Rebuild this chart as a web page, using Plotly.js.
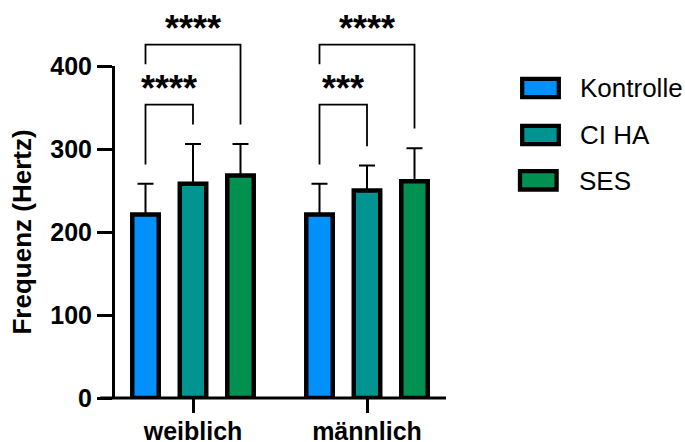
<!DOCTYPE html>
<html>
<head>
<meta charset="utf-8">
<script src="https://cdn.plot.ly/plotly-3.0.1.min.js"></script>
<style>html,body{margin:0;padding:0;background:#fff;}#chart{width:685px;height:442px;}</style>
</head>
<body>
<div id="chart"></div>
<script>
// ---- data ----
var categories = ["weiblich", "männlich"];
var seriesNames = ["Kontrolle", "CI HA", "SES"];
var kontrolle = [221, 221];
var ciha = [258, 250];
var ses = [268, 261];
var kontrolleSD = [37, 37];
var cihaSD = [48, 30];
var sesSD = [38, 40];
var tickValues = [0, 100, 200, 300, 400];
var tickLabels = ["0", "100", "200", "300", "400"];
// significance comparisons: group index, from series, to series, label
var compGroup = [0, 0, 1, 1];
var compFrom = [0, 0, 0, 0];
var compTo = [1, 2, 1, 2];
var compLabel = ["****", "****", "***", "****"];

// ---- geometry / style ----
var W = 685, H = 442;
var mL = 115, mR = 239, mT = 66, mB = 44;
var plotW = W - mL - mR, plotH = H - mT - mB;
var yMax = 400;
var pxPerCat = 174;
var xLeft = -(193 - mL) / pxPerCat;
var xRight = xLeft + plotW / pxPerCat;
var slot = 0.273;
function xp(px) { return (px - mL) / plotW; }
function yp(py) { return (H - mB - py) / plotH; }
function ypv(v) { return v / yMax; }

var colors = ["#0091FF", "#009490", "#009050"];
var font = "Arial, 'Liberation Sans', sans-serif";
var vals = [kontrolle, ciha, ses];
var sds = [kontrolleSD, cihaSD, sesSD];

var traces = seriesNames.map(function (n, i) {
  return {
    type: "bar", name: n, x: categories, y: vals[i],
    marker: { color: colors[i], line: { color: "#000", width: 4.5 } },
    error_y: { type: "data", symmetric: false, array: sds[i], arrayminus: [0, 0],
               color: "#000", thickness: 2, width: 8 },
    cliponaxis: false,
    showlegend: false
  };
});

var shapes = [];
var annotations = [];
// x axis line (extends left of the y axis)
shapes.push({ type: "line", xref: "paper", yref: "paper", x0: xp(100), x1: 1, y0: 0, y1: 0,
              line: { color: "#000", width: 3 } });

// brackets (values in y-axis units, may exceed the axis range)
var bracketTop = [353.5, 425.8, 353.5, 425.8];
var legFromEnd = [281.2, 402, 281.2, 402];
var legToEnd = [329.4, 329.4, 303.3, 324.6];
var labelY = [yp(88), yp(29), yp(88), yp(29)];
for (var k = 0; k < compGroup.length; k++) {
  var xa = compGroup[k] + (compFrom[k] - 1) * slot;
  var xb = compGroup[k] + (compTo[k] - 1) * slot;
  shapes.push({ type: "path", xref: "x", yref: "paper",
    path: "M" + xa + "," + ypv(legFromEnd[k]) + " L" + xa + "," + ypv(bracketTop[k]) +
          " L" + xb + "," + ypv(bracketTop[k]) + " L" + xb + "," + ypv(legToEnd[k]),
    line: { color: "#000", width: 1.8 } });
  annotations.push({ xref: "x", yref: "paper", x: (xa + xb) / 2, y: labelY[k], text: compLabel[k],
    showarrow: false, xanchor: "center", yanchor: "middle",
    font: { family: font, size: 36, color: "#000", weight: "bold" } });
}

// legend (manual)
var legBoxX = [540.5, 540.5, 538.3];
var legBoxY = [88, 135, 180.3];
var legTextX = [578, 578, 577];
var legTextY = [88, 135, 181];
for (var j = 0; j < seriesNames.length; j++) {
  shapes.push({ type: "rect", xref: "paper", yref: "paper",
    x0: xp(legBoxX[j] - 18.3), x1: xp(legBoxX[j] + 18.3),
    y0: yp(legBoxY[j] + 9.2), y1: yp(legBoxY[j] - 9.2),
    fillcolor: colors[j], line: { color: "#000", width: 4.3 } });
  annotations.push({ xref: "paper", yref: "paper", x: xp(legTextX[j]), y: yp(legTextY[j]),
    text: seriesNames[j], showarrow: false, xanchor: "left", yanchor: "middle",
    font: { family: font, size: 26, color: "#000" } });
}

var layout = {
  width: W, height: H,
  margin: { l: mL, r: mR, t: mT, b: mB, pad: 0 },
  paper_bgcolor: "#fff", plot_bgcolor: "#fff",
  barmode: "group", bargap: 0.181, bargroupgap: 0.443,
  showlegend: false,
  font: { family: font, color: "#000" },
  xaxis: {
    range: [xLeft, xRight], showline: false, showgrid: false, zeroline: false,
    ticks: "outside", ticklen: 14, tickwidth: 3, tickcolor: "#000",
    ticklabelstandoff: -3,
    tickfont: { family: font, size: 25, color: "#000", weight: "bold" },
    fixedrange: true
  },
  yaxis: {
    range: [0, yMax], showline: true, linewidth: 3, linecolor: "#000",
    showgrid: false, zeroline: false,
    tickvals: tickValues, ticktext: tickLabels,
    ticks: "outside", ticklen: 15, tickwidth: 3, tickcolor: "#000",
    tickfont: { family: font, size: 25, color: "#000", weight: "bold" },
    title: { text: "Frequenz (Hertz)", font: { family: font, size: 26, color: "#000", weight: "bold" }, standoff: 12 },
    fixedrange: true
  },
  shapes: shapes,
  annotations: annotations
};

Plotly.newPlot("chart", traces, layout, { displayModeBar: false, staticPlot: true });
</script>
</body>
</html>
